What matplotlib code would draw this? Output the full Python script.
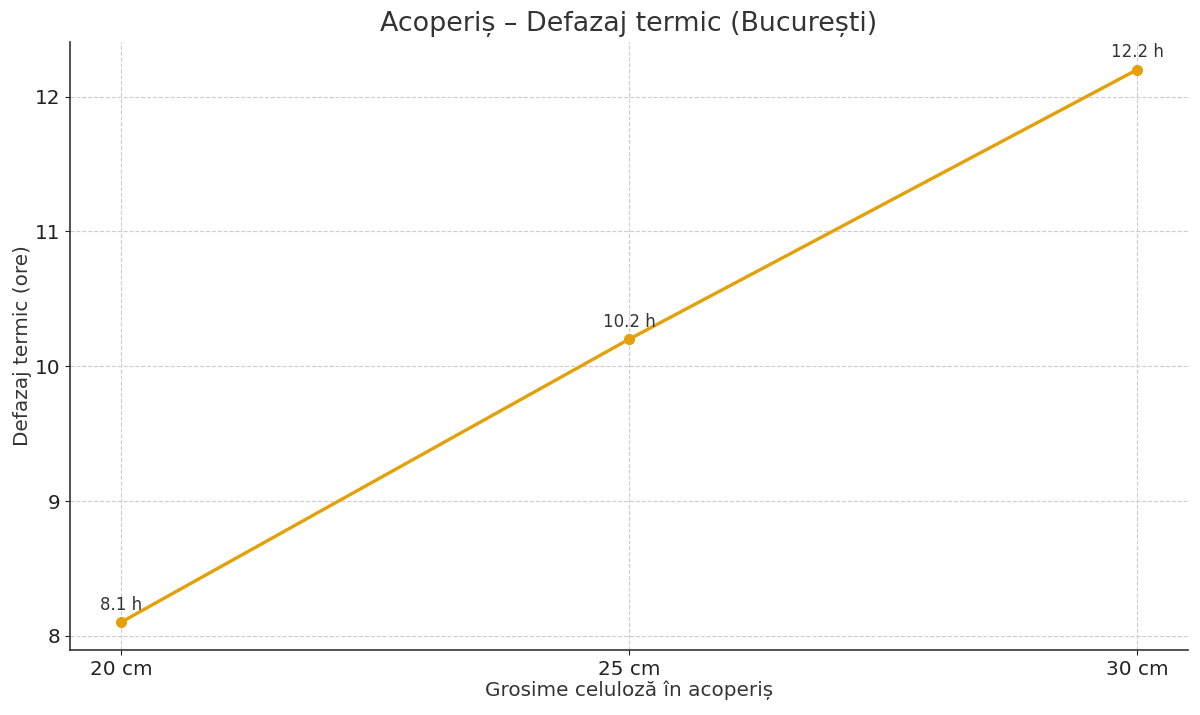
import matplotlib.pyplot as plt

grosimi = ["20 cm", "25 cm", "30 cm"]
defazaj = [8.1, 10.2, 12.2]

plt.rcParams["font.family"] = "DejaVu Sans"
plt.rcParams["text.color"] = "#333333"
plt.rcParams["axes.labelcolor"] = "#333333"

fig = plt.figure(figsize=(12, 7.15), dpi=100)
ax = fig.add_axes([70 / 1200, 65 / 715, 1118 / 1200, 608 / 715])

x = list(range(len(grosimi)))
ax.plot(x, defazaj, color="#E3A008", linewidth=2.4, marker="o", markersize=7)
for xi, v in zip(x, defazaj):
    ax.annotate(f"{v} h", (xi, v), textcoords="offset points", xytext=(0, 9),
                ha="center", fontsize=12, color="#333333")

ax.set_xticks(x)
ax.set_xticklabels(grosimi)
ax.set_xlim(-0.1, 2.1)
ax.tick_params(labelsize=14.4, colors="#222222")
ax.grid(True, linestyle="--", color="#cccccc", linewidth=0.8)
ax.set_axisbelow(True)
for s in ["top", "right"]:
    ax.spines[s].set_visible(False)
for s in ["left", "bottom"]:
    ax.spines[s].set_color("#333333")
    ax.spines[s].set_linewidth(1.2)

ax.set_title("Acoperiș – Defazaj termic (București)", fontsize=19.4, pad=8)
ax.set_xlabel("Grosime celuloză în acoperiș", fontsize=14.4, labelpad=1)
ax.set_ylabel("Defazaj termic (ore)", fontsize=14.4, labelpad=2)

fig.savefig("out.png", dpi=100)
